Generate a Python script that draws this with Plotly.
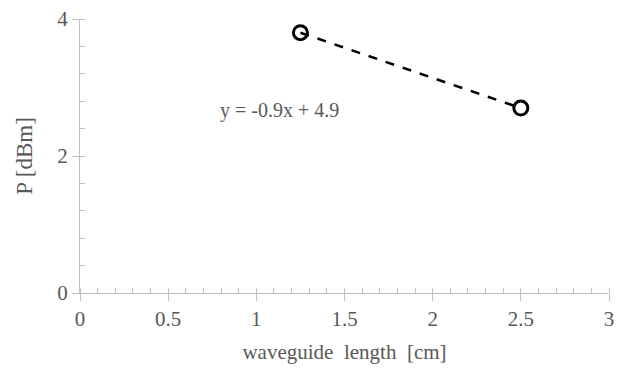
import numpy as np
import plotly.graph_objects as go

length_cm = [1.25, 2.5]
power_dbm = [3.8, 2.7]
fit_label = "y = -0.9x + 4.9"

slope, intercept = np.polyfit(length_cm, power_dbm, 1)
fit_x = [min(length_cm), max(length_cm)]
fit_y = [slope * v + intercept for v in fit_x]

font = "Liberation Serif, Times New Roman, serif"
gray = "#595959"
axis_col = "#bfbfbf"

fig = go.Figure()
fig.add_trace(go.Scatter(x=fit_x, y=fit_y, mode="lines",
                         line=dict(color="black", width=2.5, dash="dash"),
                         showlegend=False, hoverinfo="skip"))
fig.add_trace(go.Scatter(x=length_cm, y=power_dbm, mode="markers",
                         marker=dict(symbol="circle-open", size=14, color="black",
                                     line=dict(width=3, color="black")),
                         showlegend=False))
fig.add_annotation(x=1.13, y=2.66, text=fit_label, showarrow=False,
                   font=dict(family=font, size=20, color=gray))

fig.update_layout(
    width=608, height=360,
    margin=dict(l=72, r=7, t=11, b=75),
    paper_bgcolor="white", plot_bgcolor="white",
    font=dict(family=font, color=gray, size=21),
    xaxis=dict(range=[0, 3], dtick=0.5, showgrid=False, zeroline=False,
               automargin=False, ticklabeloverflow="allow",
               showline=True, linecolor=axis_col, linewidth=1,
               ticks="outside", ticklen=7, tickcolor=axis_col,
               minor=dict(dtick=0.1, ticks="inside", ticklen=5, tickcolor=axis_col),
               tickfont=dict(size=21, color=gray),
               title=dict(text="waveguide  length  [cm]", font=dict(size=21, color=gray), standoff=14)),
    yaxis=dict(range=[0, 4], dtick=2, showgrid=False, zeroline=False,
               automargin=False, ticklabeloverflow="allow",
               showline=True, linecolor=axis_col, linewidth=1,
               ticks="outside", ticklen=7, tickcolor=axis_col,
               minor=dict(dtick=0.4, ticks="inside", ticklen=5, tickcolor=axis_col),
               tickfont=dict(size=21, color=gray),
               title=dict(text="P [dBm]", font=dict(size=23, color=gray), standoff=18)),
)
fig.write_html("out.html")
